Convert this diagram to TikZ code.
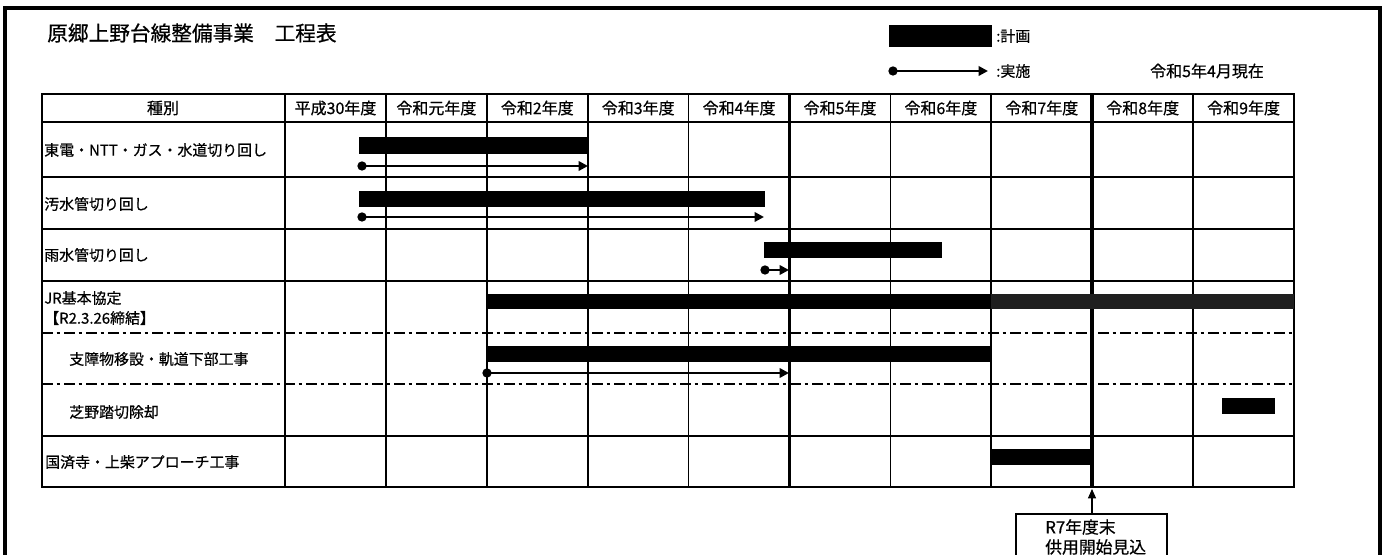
\documentclass[tikz,border=0pt]{standalone}
\usepackage{fontspec}
\setmainfont{Noto Sans CJK JP}[BoldFont=Noto Sans CJK JP, BoldFeatures={FakeBold=0.6}]
\usetikzlibrary{arrows.meta}
\begin{document}
\begin{tikzpicture}[x=0.75pt, y=-0.75pt,
  every node/.style={inner sep=0pt, font=\bfseries\fontsize{11.2}{13}\selectfont},
  head/.style={font=\bfseries\fontsize{12}{14}\selectfont},
  grid/.style={line width=1.3pt},
  bold/.style={line width=2.7pt},
  chain/.style={line width=1.5pt, dash pattern=on 8pt off 3pt on 2.5pt off 3pt},
  done/.style={line width=2pt, -{Triangle[length=7pt, width=7pt]}}]
\clip (0,0) rectangle (1386,555);
\draw[line width=2.4pt] (5,8) rectangle (1380,580);
\node[anchor=west, font=\bfseries\fontsize{15.5}{18}\selectfont] (title) at (47,33) {原郷上野台線整備事業　工程表};
\fill (889,25) rectangle (992,47);
\node[anchor=west] (plankey) at (996,36) {:計画};
\fill (893,71) circle (3.5pt);
\draw[done] (893,71) -- (988,71);
\node[anchor=west] (donekey) at (996,71) {:実施};
\node[head] (asof) at (1207,71) {令和5年4月現在};
\draw[line width=1.6pt] (42,94) rectangle (1294,487);
\foreach \y in {122,177,229,281,436}
  \draw[grid] (42,\y) -- (1294,\y);
\foreach \y in {333,384}
  \draw[chain] (42,\y) -- (1294,\y);
\foreach \i in {0,1,2,3,4,6,7,9}
  \draw[grid] (285+100.9*\i,94) -- (285+100.9*\i,487);
\foreach \i in {5,8}
  \draw[bold] (285+100.9*\i,94) -- (285+100.9*\i,487);
\node[head] (kind) at (163,108) {種別};
\foreach \t [count=\i from 0] in {平成30年度,令和元年度,令和2年度,令和3年度,令和4年度,令和5年度,令和6年度,令和7年度,令和8年度,令和9年度}
  \node[head] (yr\i) at (335.5+100.9*\i,108) {\t};
\foreach \x/\y/\t [count=\i] in {44/150/東電・NTT・ガス・水道切り回し, 44/204/汚水管切り回し, 44/255/雨水管切り回し, 69/359/支障物移設・軌道下部工事, 69/412/芝野踏切除却, 45/462/国済寺・上柴アプローチ工事}
  \node[anchor=west] (row\i) at (\x,\y) {\t};
\node[anchor=west] (jr) at (44,298) {JR基本協定};
\node[anchor=west] (jrdate) at (44,318) {【R2.3.26締結】};
\foreach \a/\b/\c/\d in {359/137/587/154, 359/191/765/207, 764/242/942/258, 486/294/991/309, 486/346/991/362, 1222/398/1275/414, 991/449/1092/465}
  \fill (\a,\b) rectangle (\c,\d);
\fill[black!88] (991,294) rectangle (1294,309);
\foreach \a/\b/\y in {362/588/166, 362/764/217, 765/789/270, 487/789/373}
  {\fill (\a,\y) circle (3.5pt);
   \draw[done] (\a,\y) -- (\b,\y);};
\draw[line width=1.6pt] (1016,514) rectangle (1167,580);
\node[anchor=west, font=\bfseries\fontsize{12.6}{14}\selectfont] (r7a) at (1045,527) {R7年度末};
\node[anchor=west, font=\bfseries\fontsize{12.6}{14}\selectfont] (r7b) at (1045,547) {供用開始見込};
\coordinate (r7foot) at (1092,514);
\coordinate (r7end) at (1092,489);
\draw[line width=0.8pt, -{Triangle[length=7pt, width=6pt]}] (r7foot) -- (r7end);
\end{tikzpicture}
\end{document}
